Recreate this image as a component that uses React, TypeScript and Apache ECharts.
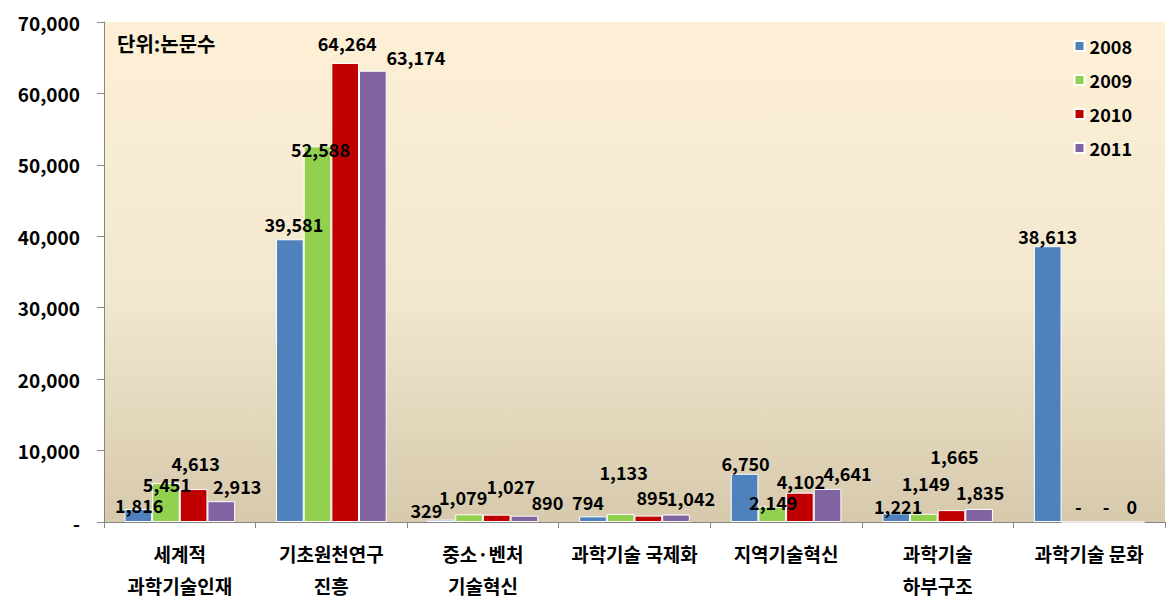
import React, { useEffect, useRef } from "react";
import * as echarts from "echarts";

const categories = [
  "세계적\n과학기술인재",
  "기초원천연구\n진흥",
  "중소·벤처\n기술혁신",
  "과학기술 국제화",
  "지역기술혁신",
  "과학기술\n하부구조",
  "과학기술 문화",
];
const years = ["2008", "2009", "2010", "2011"];
const values2008 = [1816, 39581, 329, 794, 6750, 1221, 38613];
const values2009 = [5451, 52588, 1079, 1133, 2149, 1149, 0];
const values2010 = [4613, 64264, 1027, 895, 4102, 1665, 0];
const values2011 = [2913, 63174, 890, 1042, 4641, 1835, 0];
const seriesValues = [values2008, values2009, values2010, values2011];
const colors = ["#4f81bd", "#92d050", "#c00000", "#8064a2"];
const unitText = "단위:논문수";

// label nudges (dx, dy) copying the hand-placed labels in the reference
const labelNudges = [
  [[1, 10], [4, -1], [-15, 4], [-5, 0], [1, 3], [2, 7], [0, 4]],
  [[1, 15], [3, 17], [-6, -3], [3, -28], [1, 9], [2, -17], [3, -2]],
  [[2, -12], [2, -6], [14, -15], [4, -5], [1, 2], [3, -40], [3, -2]],
  [[16, -1], [43, 0], [23, 0], [15, -3], [20, -2], [1, -3], [1, -2]],
];

const FONT = "'Noto Sans CJK KR', 'Noto Sans', sans-serif";

export default function App() {
  const ref = useRef<HTMLDivElement>(null);
  useEffect(() => {
    if (!ref.current) return;
    const chart = echarts.init(ref.current, null, { renderer: "svg" });
    const fmt = (v: number) => v.toLocaleString("en-US");
    chart.setOption({
      animation: false,
      textStyle: { fontFamily: FONT },
      grid: {
        left: 104,
        right: 6,
        top: 22,
        bottom: 90,
        show: true,
        borderWidth: 0,
        backgroundColor: new echarts.graphic.LinearGradient(0, 0, 0, 1, [
          { offset: 0, color: "#fdf0d6" },
          { offset: 0.55, color: "#f2e7cf" },
          { offset: 1, color: "#d6c9ac" },
        ]),
      },
      graphic: [
        {
          type: "text",
          left: 117,
          top: 33,
          style: {
            text: unitText,
            fontSize: 20,
            fontWeight: "bold",
            fontFamily: FONT,
            fill: "#000",
          },
        },
      ],
      legend: {
        orient: "vertical",
        right: 34,
        top: 31,
        itemWidth: 10,
        itemHeight: 10,
        itemGap: 14,
        icon: "rect",
        textStyle: {
          fontSize: 18,
          fontWeight: "bold",
          fontFamily: FONT,
          color: "#000",
          lineHeight: 20,
        },
        data: years,
      },
      xAxis: {
        type: "category",
        data: categories,
        axisLine: { lineStyle: { color: "#868686", width: 1 } },
        axisTick: { show: true, length: 6, lineStyle: { color: "#868686" } },
        axisLabel: {
          interval: 0,
          margin: 15,
          fontSize: 19,
          fontWeight: "bold",
          fontFamily: FONT,
          color: "#000",
          lineHeight: 32,
        },
      },
      yAxis: {
        type: "value",
        min: 0,
        max: 70000,
        interval: 10000,
        splitLine: { show: false },
        axisLine: { show: true, lineStyle: { color: "#868686", width: 1 } },
        axisTick: { show: true, length: 7, lineStyle: { color: "#868686" } },
        axisLabel: {
          margin: 24,
          fontSize: 19,
          fontWeight: "bold",
          fontFamily: FONT,
          color: "#000",
          formatter: (v: number) => (v === 0 ? "-" : fmt(v)),
        },
      },
      series: years.map((y, si) => ({
        name: y,
        type: "bar",
        barGap: "0%",
        barCategoryGap: "27%",
        itemStyle: { color: colors[si], borderColor: "#ffffff", borderWidth: 1 },
        label: {
          show: true,
          position: "top",
          distance: 5,
          fontSize: 18,
          fontWeight: "bold",
          fontFamily: FONT,
          color: "#000",
          formatter: (p: any) =>
            p.value === 0 ? (si === 3 ? "0" : "-") : fmt(p.value),
        },
        data: seriesValues[si].map((v, ci) => ({
          value: v,
          label: { offset: labelNudges[si][ci] },
        })),
      })),
    });
    return () => chart.dispose();
  }, []);
  return (
    <div
      ref={ref}
      style={{ position: "fixed", left: 0, top: 0, width: 1171, height: 612, background: "#fff" }}
    />
  );
}
